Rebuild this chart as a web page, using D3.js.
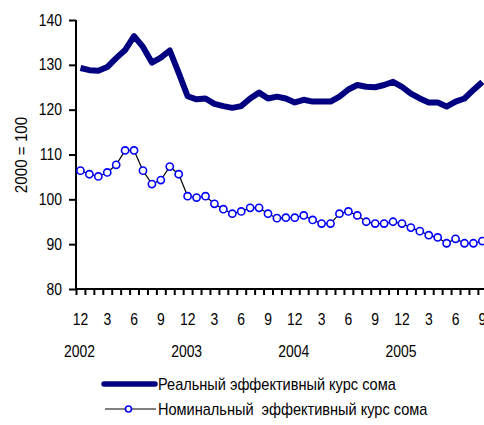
<!DOCTYPE html>
<html>
<head>
<meta charset="utf-8">
<script src="https://cdn.jsdelivr.net/npm/d3@7"></script>
<style>
  body { margin: 0; background: #fff; }
  text { font-family: "Liberation Sans", Arial, sans-serif; font-size: 16px; fill: #000; }
</style>
</head>
<body>
<svg id="chart" width="484" height="425"></svg>
<script>
// monthly categories, first one is December 2002
var months = [12, 1, 2, 3, 4, 5, 6, 7, 8, 9, 10, 11,
              12, 1, 2, 3, 4, 5, 6, 7, 8, 9, 10, 11,
              12, 1, 2, 3, 4, 5, 6, 7, 8, 9, 10, 11,
              12, 1, 2, 3, 4, 5, 6, 7, 8, 9];
var years = ['2002', '2003', '2004', '2005'];
var yTicks = [80, 90, 100, 110, 120, 130, 140];

var realRate = [129.3, 128.8, 128.7, 129.5, 131.5, 133.3, 136.4, 134.0, 130.5, 131.6,
                133.2, 128.2, 123.0, 122.3, 122.5, 121.3, 120.8, 120.4, 120.8, 122.5,
                123.8, 122.5, 122.9, 122.5, 121.6, 122.2, 121.8, 121.8, 121.8, 122.9,
                124.5, 125.5, 125.1, 125.0, 125.5, 126.2, 125.1, 123.6, 122.5, 121.6,
                121.6, 120.7, 121.8, 122.5, 124.4, 126.2];
var nominalRate = [106.4, 105.6, 105.1, 106.0, 107.7, 110.9, 110.9, 106.4, 103.4, 104.3,
                   107.3, 105.6, 100.7, 100.4, 100.7, 99.0, 97.8, 96.8, 97.3, 98.1,
                   98.1, 96.8, 95.8, 95.9, 95.9, 96.4, 95.4, 94.6, 94.6, 96.8,
                   97.3, 96.4, 95.0, 94.6, 94.6, 95.0, 94.6, 93.7, 92.9, 92.0,
                   91.5, 90.2, 91.2, 90.2, 90.2, 90.7];

var legendNames = ['Реальный эффективный курс сома', 'Номинальный  эффективный курс сома'];

var svg = d3.select('#chart');
var SX = 0.87; // the fonts in the picture are a bit narrow

// x: one slot per month, ticks sit on the slot edges
var xB = d3.scaleLinear().domain([0, months.length]).range([76, 486.8]);
var xc = function(i) { return xB(i + 0.5); };
var y = d3.scaleLinear().domain([80, 140]).range([289, 20]);

var g = svg.append('g');

// y axis
var yAxis = g.append('g')
    .attr('transform', 'translate(76,0)')
    .call(d3.axisLeft(y).tickValues(yTicks).tickSize(7).tickFormat(''));
yAxis.select('.domain').attr('d', 'M0,20V289').attr('stroke-width', 2);
yAxis.selectAll('.tick line').attr('stroke-width', 2);

g.selectAll('.ylab')
    .data(yTicks)
    .enter()
    .append('text')
    .attr('class', 'ylab')
    .attr('text-anchor', 'end')
    .attr('transform', function(d) { return 'translate(62,' + (y(d) + 5.5) + ') scale(' + SX + ',1)'; })
    .text(function(d) { return d; });

g.append('text')
    .attr('text-anchor', 'middle')
    .attr('transform', 'translate(27,155) rotate(-90) scale(0.95,1)')
    .text('2000 = 100');

// x axis
var xAxis = g.append('g')
    .attr('transform', 'translate(0,289)')
    .call(d3.axisBottom(xB).tickValues(d3.range(months.length + 1)).tickSize(6).tickFormat(''));
xAxis.select('.domain').attr('d', 'M76,0H490').attr('stroke-width', 2);
xAxis.selectAll('.tick line').attr('stroke-width', 2);

g.selectAll('.mlab')
    .data(months)
    .enter()
    .filter(function(d, i) { return i % 3 === 0; })
    .append('text')
    .attr('class', 'mlab')
    .attr('text-anchor', 'middle')
    .attr('transform', function(d, i) { return 'translate(' + xc(i * 3) + ',325) scale(' + SX + ',1)'; })
    .text(function(d) { return d; });

g.selectAll('.yrlab')
    .data(years)
    .enter()
    .append('text')
    .attr('class', 'yrlab')
    .attr('text-anchor', 'middle')
    .attr('transform', function(d, i) { return 'translate(' + (xc(i * 12) - 1) + ',357) scale(' + SX + ',1)'; })
    .text(function(d) { return d; });

// series
var line = d3.line()
    .x(function(d, i) { return xc(i); })
    .y(function(d) { return y(d); });

g.append('path')
    .datum(realRate)
    .attr('fill', 'none')
    .attr('stroke', '#000080')
    .attr('stroke-width', 6)
    .attr('stroke-linejoin', 'round')
    .attr('d', line);

g.append('path')
    .datum(nominalRate)
    .attr('fill', 'none')
    .attr('stroke', '#000')
    .attr('stroke-width', 1.2)
    .attr('d', line);

g.selectAll('.dot')
    .data(nominalRate)
    .enter()
    .append('circle')
    .attr('class', 'dot')
    .attr('cx', function(d, i) { return xc(i); })
    .attr('cy', function(d) { return y(d); })
    .attr('r', 3.6)
    .attr('fill', '#fff')
    .attr('stroke', '#0000ff')
    .attr('stroke-width', 1.6);

// legend
var leg = svg.append('g');
leg.append('line')
    .attr('x1', 104).attr('x2', 155).attr('y1', 384).attr('y2', 384)
    .attr('stroke', '#000080').attr('stroke-width', 5.5).attr('stroke-linecap', 'round');
leg.append('line')
    .attr('x1', 105).attr('x2', 156).attr('y1', 409).attr('y2', 409)
    .attr('stroke', '#000').attr('stroke-width', 1.2);
leg.append('circle')
    .attr('cx', 128.5).attr('cy', 409).attr('r', 3)
    .attr('fill', '#fff').attr('stroke', '#0000ff').attr('stroke-width', 1.6);

leg.selectAll('.ltxt')
    .data(legendNames)
    .enter()
    .append('text')
    .attr('class', 'ltxt')
    .attr('xml:space', 'preserve')
    .style('white-space', 'pre')
    .attr('transform', function(d, i) { return 'translate(158,' + (390 + i * 25) + ') scale(0.91,1)'; })
    .text(function(d) { return d; });
</script>
</body>
</html>
